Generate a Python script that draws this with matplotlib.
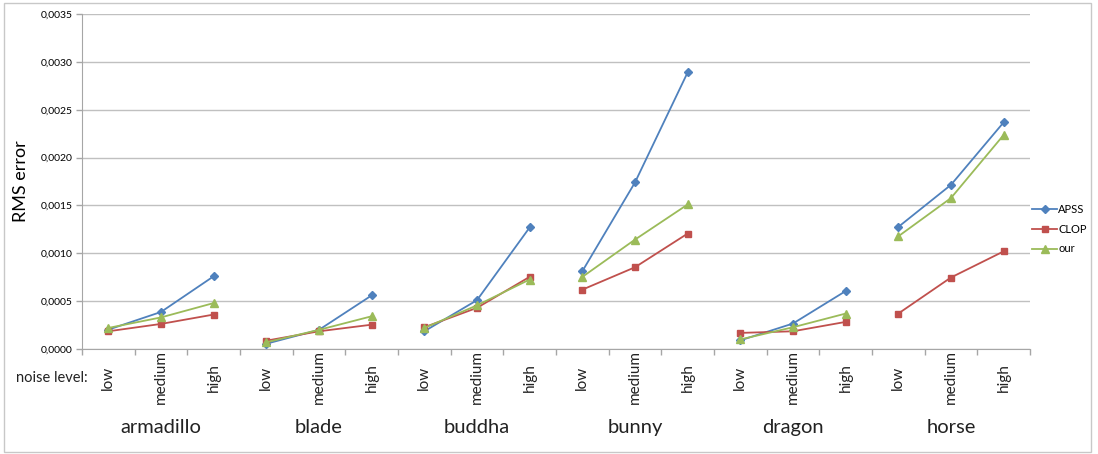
import matplotlib
matplotlib.use("Agg")
import matplotlib.pyplot as plt
from matplotlib.patches import Rectangle

plt.rcParams['font.family'] = ['Lato', 'DejaVu Sans']

# datos
objetos = ["armadillo", "blade", "buddha", "bunny", "dragon", "horse"]
niveles = ["low", "medium", "high"]

apss = [0.000202, 0.000387, 0.00076,
        0.000055, 0.0002, 0.00056,
        0.000185, 0.00051, 0.00127,
        0.000812, 0.00174, 0.00289,
        0.00009, 0.000266, 0.000605,
        0.001275, 0.001715, 0.002368]
clop = [0.000185, 0.000262, 0.00036,
        0.000087, 0.000185, 0.000254,
        0.000227, 0.00043, 0.000754,
        0.00062, 0.000854, 0.001206,
        0.000168, 0.000185, 0.000283,
        0.00037, 0.000747, 0.00102]
our = [0.00022, 0.00033, 0.00048,
       0.00007, 0.0002, 0.000342,
       0.00022, 0.000456, 0.000726,
       0.000753, 0.001143, 0.00151,
       0.0001, 0.000227, 0.00037,
       0.001177, 0.001577, 0.002236]

y_ticks = [0.0, 0.0005, 0.001, 0.0015, 0.002, 0.0025, 0.003, 0.0035]

series = [("APSS", apss, "#4F81BD", "D", 4.0),
          ("CLOP", clop, "#C0504D", "s", 5.0),
          ("our", our, "#9BBB59", "^", 5.5)]

fig = plt.figure(figsize=(10.98, 4.54), dpi=100)
ax = fig.add_axes([0.0747, 0.2313, 0.8633, 0.7377])

n = len(niveles)
for nombre, valores, color, marcador, ms in series:
    for g in range(len(objetos)):
        xs = list(range(g * n, g * n + n))
        ys = valores[g * n:g * n + n]
        ax.plot(xs, ys, color=color, marker=marcador, markersize=ms,
                linewidth=1.3, label=nombre if g == 0 else None)

ax.set_xlim(-0.5, len(objetos) * n - 0.5)
ax.set_ylim(0, 0.0035)
ax.set_yticks(y_ticks)
ax.set_yticklabels([f"{v:.4f}".replace(".", ",") for v in y_ticks], fontsize=7.5)
ax.set_xticks([i - 0.5 for i in range(len(objetos) * n + 1)])
ax.set_xticklabels([])
ax.tick_params(axis='both', direction='out', length=4, color='#A6A6A6', width=1)
ax.tick_params(axis='y', pad=3)
ax.yaxis.grid(True, color='#C0C0C0', linewidth=1)
ax.set_axisbelow(True)
for lado in ["top", "right"]:
    ax.spines[lado].set_visible(False)
for lado in ["left", "bottom"]:
    ax.spines[lado].set_color('#A6A6A6')
ax.set_ylabel("RMS error", fontsize=13, labelpad=8)

trans = ax.get_xaxis_transform()
for g, obj in enumerate(objetos):
    for k, niv in enumerate(niveles):
        ax.text(g * n + k, -0.085, niv, rotation=90, ha='center', va='center',
                fontsize=11, transform=trans, color='#222222')
    ax.text(g * n + 1, -0.235, obj, ha='center', va='center', fontsize=14.5,
            transform=trans, color='#222222')
fig.text(0.015, 0.167, "noise level:", ha='left', va='center', fontsize=10.5,
         color='#222222')

ax.legend(loc='center left', bbox_to_anchor=(0.998, 0.358), frameon=False,
          fontsize=8, handlelength=2.2, handletextpad=0.1, labelspacing=0.8,
          borderaxespad=0)

fig.patches.append(Rectangle((0.004, 0.004), 0.99, 0.99, transform=fig.transFigure,
                             fill=False, edgecolor='#C8C8C8', linewidth=1))

fig.savefig("out.png", dpi=100)
